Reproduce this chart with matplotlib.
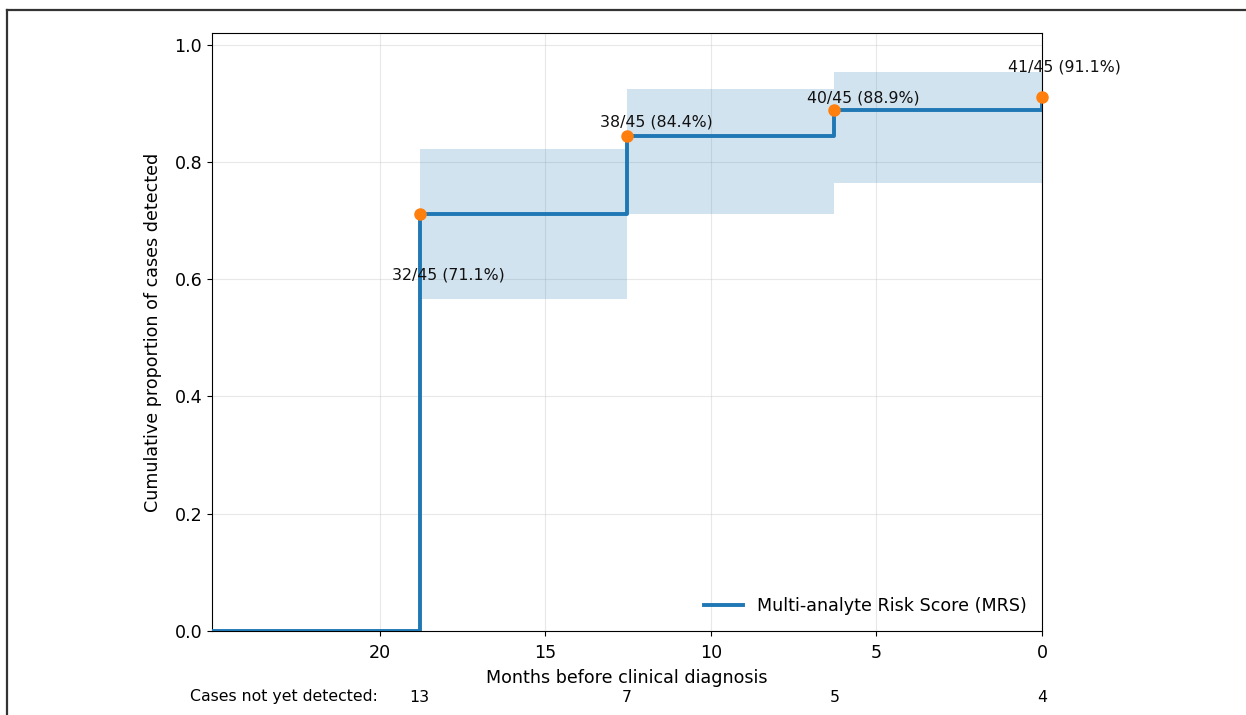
import matplotlib
matplotlib.use("Agg")
import matplotlib.pyplot as plt
import matplotlib.transforms as mtransforms
from matplotlib.lines import Line2D

# ---- data ----
months = [25.07, 18.8, 12.53, 6.27, 0]
cum_prop = [0.0, 0.711, 0.844, 0.889, 0.911]
pt_months = [18.8, 12.53, 6.27, 0]
pt_prop = [0.711, 0.844, 0.889, 0.911]
pt_labels = ["32/45 (71.1%)", "38/45 (84.4%)", "40/45 (88.9%)", "41/45 (91.1%)"]
ci_start = [18.8, 12.53, 6.27]
ci_end = [12.53, 6.27, 0]
ci_low = [0.567, 0.711, 0.765]
ci_high = [0.822, 0.924, 0.954]
not_detected = [13, 7, 5, 4]
# label offsets in pixels (dx, dy)
label_offsets = [(29, -61), (29, 14), (29, 12), (22, 30)]

fig = plt.figure(figsize=(12.46, 7.15), dpi=100)
ax = fig.add_axes([212/1246, 1-631/715, (1042-212)/1246, (631-33)/715])

for s, e, lo, hi in zip(ci_start, ci_end, ci_low, ci_high):
    ax.fill_between([s, e], [lo, lo], [hi, hi], color="#1f77b4", alpha=0.2, linewidth=0)

ax.plot(months, cum_prop, drawstyle="steps-post", color="#1f77b4", lw=2.8,
        label="Multi-analyte Risk Score (MRS)", zorder=3)
ax.plot(pt_months, pt_prop, "o", color="#ff7f0e", ms=8, zorder=4, clip_on=False)

for x, y, t, (dx, dy) in zip(pt_months, pt_prop, pt_labels, label_offsets):
    ax.annotate(t, (x, y), xytext=(dx, dy), textcoords="offset pixels",
                ha="center", va="center", fontsize=11.3, color="#111111",
                annotation_clip=False)

ax.set_xlim(25.07, 0)
ax.set_ylim(0, 1.02)
ax.set_xticks([20, 15, 10, 5, 0])
ax.set_yticks([0, 0.2, 0.4, 0.6, 0.8, 1.0])
ax.tick_params(labelsize=12.6)
ax.tick_params(axis="x", pad=6)
ax.grid(True, color="#cccccc", alpha=0.45, linewidth=0.8)
ax.set_axisbelow(True)
ax.set_xlabel("Months before clinical diagnosis", fontsize=12.6, labelpad=5)
ax.set_ylabel("Cumulative proportion of cases detected", fontsize=12.6, labelpad=9)
ax.legend(loc="lower right", frameon=False, fontsize=12.6, handlelength=2.2)

trans = mtransforms.blended_transform_factory(ax.transData, fig.transFigure)
yrow = 1 - 697/715
ax.text(284/1246, yrow, "Cases not yet detected:", transform=fig.transFigure,
        ha="center", va="center", fontsize=11.3)
for x, n in zip(pt_months, not_detected):
    ax.text(x, yrow, str(n), transform=trans, ha="center", va="center", fontsize=11.3)

# outer frame (top and left visible)
fig.add_artist(Line2D([7/1246, 7/1246], [0, 1-10/715], transform=fig.transFigure,
                      color="#333333", lw=1.6))
fig.add_artist(Line2D([7/1246, 1], [1-10/715, 1-10/715], transform=fig.transFigure,
                      color="#333333", lw=1.6))

fig.savefig("out.png", dpi=100)
